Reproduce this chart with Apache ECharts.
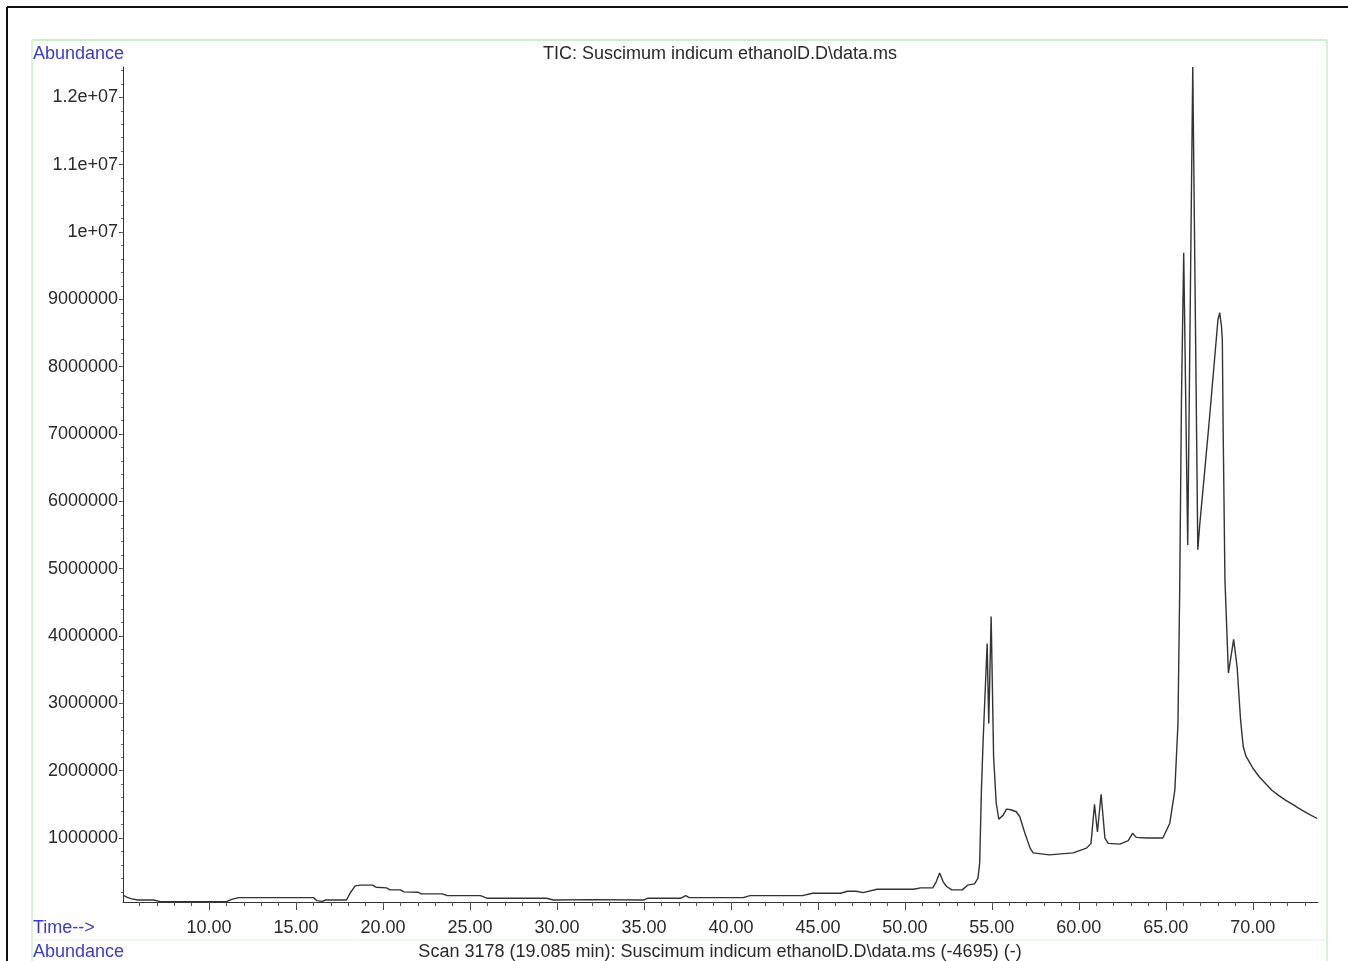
<!DOCTYPE html>
<html>
<head>
<meta charset="utf-8">
<script src="https://cdn.jsdelivr.net/npm/echarts@6/dist/echarts.min.js"></script>
<style>
  html, body { margin: 0; padding: 0; background: #ffffff; }
  #chart { width: 1348px; height: 961px; }
</style>
</head>
<body>
<div id="chart"></div>
<script>
// Retention time (min)
const retentionTime = [
  5.07, 5.3, 5.5, 5.9, 6.8, 7.2, 9.0, 11.0, 11.1, 11.3, 11.7, 14.0, 16.0, 16.2, 16.5, 16.7, 17.9,
  18.1, 18.4, 18.7, 19.4, 19.6, 20.2, 20.4, 21.0, 21.2, 22.0, 22.2, 23.4, 23.7, 25.6, 26.0, 28.4,
  29.4, 29.8, 32.0, 35.0, 35.2, 37.1, 37.4, 37.6, 40.7, 41.1, 44.1, 44.7, 46.3, 46.7, 47.2, 47.6,
  48.4, 50.5, 50.9, 51.6, 51.8, 52.0, 52.2, 52.4, 52.7, 53.3, 53.6, 54.0, 54.2, 54.3, 54.4, 54.5,
  54.73, 54.82, 54.96, 55.1, 55.25, 55.4, 55.65, 55.84, 56.1, 56.4, 56.6, 56.9, 57.2, 57.37, 58.3,
  59.67, 60.44, 60.7, 60.9, 61.07, 61.28, 61.5, 61.69, 62.36, 62.84, 63.09, 63.3, 63.9, 64.83,
  65.23, 65.52, 65.7, 65.8, 65.9, 66.03, 66.26, 66.55, 66.84, 66.95, 67.24, 67.5, 67.8, 68.0,
  68.1, 68.2, 68.25, 68.3, 68.4, 68.6, 68.9, 69.1, 69.3, 69.45, 69.6, 69.8, 70.0, 70.37, 70.8,
  71.1, 71.5, 71.9, 72.3, 72.65, 73.2, 73.7
];
// Abundance (millions)
const abundanceMillions = [
  0.15, 0.12, 0.10, 0.08, 0.08, 0.055, 0.055, 0.055, 0.08, 0.09, 0.115, 0.115, 0.115, 0.07, 0.06, 0.08, 0.08,
  0.18, 0.29, 0.30, 0.30, 0.27, 0.26, 0.23, 0.23, 0.20, 0.195, 0.17, 0.17, 0.145, 0.145, 0.105, 0.105,
  0.105, 0.08, 0.085, 0.08, 0.105, 0.105, 0.145, 0.115, 0.115, 0.145, 0.145, 0.18, 0.18, 0.21, 0.21, 0.19,
  0.24, 0.24, 0.26, 0.26, 0.35, 0.48, 0.35, 0.28, 0.23, 0.23, 0.30, 0.32, 0.40, 0.63, 1.71, 2.46,
  3.89, 2.70, 4.29, 2.21, 1.52, 1.28, 1.34, 1.43, 1.42, 1.39, 1.32, 1.07, 0.85, 0.78, 0.75,
  0.78, 0.85, 0.92, 1.50, 1.09, 1.65, 1.00, 0.92, 0.91, 0.96, 1.07, 1.01, 1.00, 1.00,
  1.22, 1.71, 2.70, 4.70, 7.5, 9.69, 5.35, 12.45, 5.28, 5.65, 6.46, 7.2, 8.1, 8.7,
  8.8, 8.6, 8.4, 7.0, 4.83, 3.45, 3.95, 3.54, 2.75, 2.36, 2.22, 2.13, 2.04, 1.91, 1.79,
  1.71, 1.63, 1.56, 1.50, 1.44, 1.36, 1.29
];
// Axis ticks
const xMajorTicks = [10, 15, 20, 25, 30, 35, 40, 45, 50, 55, 60, 65, 70];
const xMinorTicks = [];
for (let t = 6; t <= 73; t++) xMinorTicks.push(t);
const yMajorTicks = [1e6, 2e6, 3e6, 4e6, 5e6, 6e6, 7e6, 8e6, 9e6, 1e7, 1.1e7, 1.2e7];
const yTickLabels = ['1000000', '2000000', '3000000', '4000000', '5000000', '6000000',
  '7000000', '8000000', '9000000', '1e+07', '1.1e+07', '1.2e+07'];
const yMinorTicks = [];
for (let k = 1; k <= 62; k++) yMinorTicks.push(k * 200000);

const titleText = 'TIC: Suscimum indicum ethanolD.D\\data.ms';
const footerText = 'Scan 3178 (19.085 min): Suscimum indicum ethanolD.D\\data.ms (-4695) (-)';

const FONT = '18px "Liberation Sans", Arial, sans-serif';
const BLUE = '#3a3ad6';
const TXT = '#2a2a2a';

const seriesData = retentionTime.map((t, i) => [t, abundanceMillions[i] * 1e6]);

const chart = echarts.init(document.getElementById('chart'), null, { renderer: 'canvas' });

const xMin = 5.05, xMax = 73.75, yMin = 50000, yMax = 12450000;

chart.setOption({
  animation: false,
  backgroundColor: '#ffffff',
  grid: { left: 123, top: 67, width: 1195, height: 835, containLabel: false },
  xAxis: [
    {
      type: 'value', min: xMin, max: xMax, position: 'bottom',
      axisLine: { show: true, lineStyle: { color: '#333', width: 1 } },
      axisTick: { show: true, customValues: xMajorTicks, length: 8, lineStyle: { color: '#444', width: 1 } },
      axisLabel: {
        show: true, customValues: xMajorTicks, margin: 17,
        formatter: v => Number(v).toFixed(2),
        fontFamily: '"Liberation Sans", Arial, sans-serif', fontSize: 18, color: TXT
      },
      splitLine: { show: false }
    },
    {
      type: 'value', min: xMin, max: xMax, position: 'bottom',
      axisLine: { show: false },
      axisTick: { show: true, customValues: xMinorTicks, length: 4, lineStyle: { color: '#555', width: 1 } },
      axisLabel: { show: false },
      splitLine: { show: false }
    }
  ],
  yAxis: [
    {
      type: 'value', min: yMin, max: yMax, position: 'left',
      axisLine: { show: true, lineStyle: { color: '#333', width: 1 } },
      axisTick: { show: true, customValues: yMajorTicks, length: 4, lineStyle: { color: '#444', width: 1 } },
      axisLabel: {
        show: true, customValues: yMajorTicks, margin: 5,
        formatter: v => { const i = yMajorTicks.indexOf(Number(v)); return i >= 0 ? yTickLabels[i] : ''; },
        fontFamily: '"Liberation Sans", Arial, sans-serif', fontSize: 18, color: TXT
      },
      splitLine: { show: false }
    },
    {
      type: 'value', min: yMin, max: yMax, position: 'left',
      axisLine: { show: false },
      axisTick: { show: true, customValues: yMinorTicks, length: 2, lineStyle: { color: '#666', width: 1 } },
      axisLabel: { show: false },
      splitLine: { show: false }
    }
  ],
  series: [{
    type: 'line',
    xAxisIndex: 0, yAxisIndex: 0,
    data: seriesData,
    symbol: 'none',
    smooth: false,
    clip: true,
    lineStyle: { color: '#333333', width: 1.4 }
  }],
  graphic: [
    { type: 'line', shape: { x1: 7, y1: 7, x2: 1348, y2: 7 }, style: { stroke: '#111', lineWidth: 2 } },
    { type: 'line', shape: { x1: 7, y1: 7, x2: 7, y2: 961 }, style: { stroke: '#111', lineWidth: 2 } },
    { type: 'line', shape: { x1: 32, y1: 40, x2: 1327, y2: 40 }, style: { stroke: '#c9efc9', lineWidth: 2 } },
    { type: 'line', shape: { x1: 32, y1: 40, x2: 32, y2: 961 }, style: { stroke: '#c9efc9', lineWidth: 1.5 } },
    { type: 'line', shape: { x1: 1327, y1: 40, x2: 1327, y2: 961 }, style: { stroke: '#c9efc9', lineWidth: 1.5 } },
    { type: 'line', shape: { x1: 32, y1: 940, x2: 1327, y2: 940 }, style: { stroke: '#dff5df', lineWidth: 1 } },
    { type: 'text', x: 33, y: 54, style: { text: 'Abundance', font: FONT, fill: BLUE, align: 'left', verticalAlign: 'middle' } },
    { type: 'text', x: 720, y: 54, style: { text: titleText, font: FONT, fill: TXT, align: 'center', verticalAlign: 'middle' } },
    { type: 'text', x: 33, y: 928, style: { text: 'Time-->', font: FONT, fill: BLUE, align: 'left', verticalAlign: 'middle' } },
    { type: 'text', x: 33, y: 952, style: { text: 'Abundance', font: FONT, fill: BLUE, align: 'left', verticalAlign: 'middle' } },
    { type: 'text', x: 720, y: 952, style: { text: footerText, font: FONT, fill: TXT, align: 'center', verticalAlign: 'middle' } }
  ]
});
</script>
</body>
</html>
